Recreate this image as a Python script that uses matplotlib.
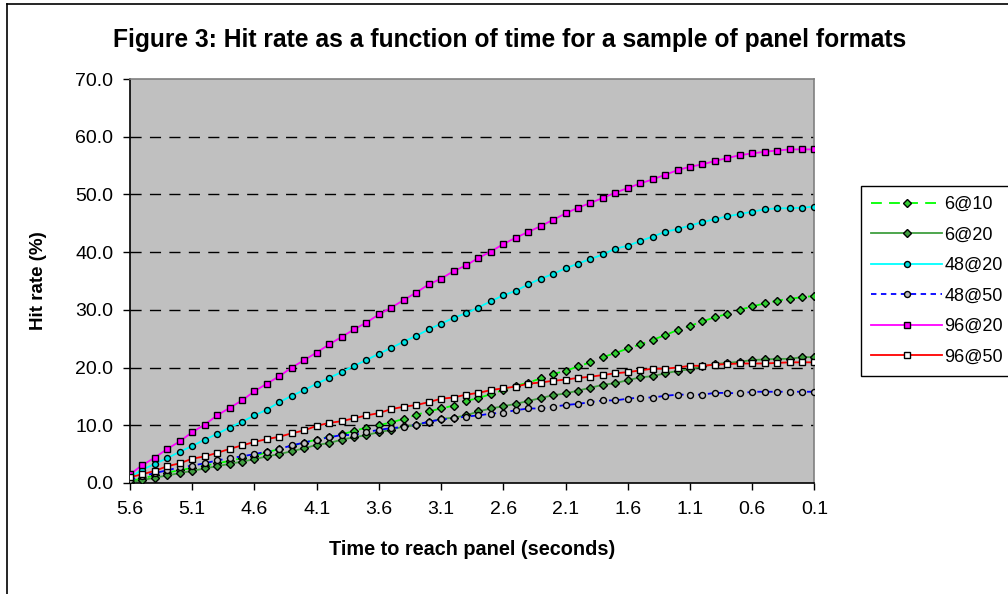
import matplotlib
matplotlib.use('Agg')
import matplotlib.pyplot as plt
from matplotlib.lines import Line2D
import numpy as np

plt.rcParams['font.family'] = ['Liberation Sans', 'DejaVu Sans']

# time to reach panel, 5.6 s down to 0.1 s
time_s = [5.6, 5.5, 5.4, 5.3, 5.2, 5.1, 5.0, 4.9, 4.8, 4.7, 4.6, 4.5, 4.4, 4.3,
          4.2, 4.1, 4.0, 3.9, 3.8, 3.7, 3.6, 3.5, 3.4, 3.3, 3.2, 3.1, 3.0, 2.9,
          2.8, 2.7, 2.6, 2.5, 2.4, 2.3, 2.2, 2.1, 2.0, 1.9, 1.8, 1.7, 1.6, 1.5,
          1.4, 1.3, 1.2, 1.1, 1.0, 0.9, 0.8, 0.7, 0.6, 0.5, 0.4, 0.3, 0.2, 0.1]

hit_6_10 = [0.3, 0.8, 1.3, 1.8, 2.2, 2.6, 3.0, 3.4, 3.8, 4.3, 4.7, 5.3, 5.9, 6.4,
            7.0, 7.5, 8.0, 8.4, 9.0, 9.6, 10.0, 10.5, 11.1, 11.8, 12.4, 12.9, 13.4, 14.2,
            14.7, 15.4, 16.1, 16.8, 17.4, 18.1, 18.9, 19.4, 20.2, 20.9, 21.8, 22.5, 23.3, 24.0,
            24.8, 25.6, 26.5, 27.2, 28.0, 28.7, 29.3, 30.0, 30.6, 31.1, 31.6, 31.9, 32.2, 32.4]
hit_6_20 = [0.1, 0.5, 0.9, 1.3, 1.7, 2.1, 2.5, 2.9, 3.3, 3.7, 4.1, 4.6, 5.0, 5.5,
            6.0, 6.6, 6.9, 7.5, 7.9, 8.3, 8.8, 9.2, 9.8, 10.0, 10.6, 11.1, 11.3, 11.7,
            12.4, 12.9, 13.3, 13.7, 14.2, 14.7, 15.2, 15.5, 16.0, 16.5, 17.0, 17.3, 17.8, 18.3,
            18.5, 19.0, 19.4, 19.7, 20.2, 20.6, 20.8, 21.0, 21.3, 21.4, 21.5, 21.5, 21.8, 21.8]
hit_48_20 = [1.0, 2.3, 3.3, 4.3, 5.4, 6.4, 7.5, 8.5, 9.6, 10.6, 11.7, 12.7, 14.0, 15.1,
             16.1, 17.2, 18.2, 19.2, 20.3, 21.3, 22.4, 23.4, 24.5, 25.5, 26.6, 27.6, 28.6, 29.4,
             30.4, 31.5, 32.5, 33.3, 34.4, 35.4, 36.2, 37.2, 38.0, 38.8, 39.6, 40.6, 41.1, 41.9,
             42.7, 43.5, 44.0, 44.6, 45.2, 45.7, 46.2, 46.6, 47.0, 47.4, 47.6, 47.6, 47.7, 47.9]
hit_48_50 = [0.5, 1.2, 1.7, 2.2, 2.7, 3.0, 3.4, 3.9, 4.3, 4.6, 5.0, 5.4, 5.9, 6.5,
             7.0, 7.5, 7.9, 8.3, 8.3, 8.8, 9.2, 9.5, 9.7, 10.1, 10.6, 11.0, 11.2, 11.5,
             11.7, 12.0, 12.2, 12.6, 12.9, 12.9, 13.2, 13.5, 13.7, 14.0, 14.3, 14.3, 14.6, 14.8,
             14.8, 15.1, 15.3, 15.3, 15.3, 15.6, 15.6, 15.5, 15.8, 15.8, 15.8, 15.8, 15.8, 15.8]
hit_96_20 = [1.5, 3.1, 4.4, 5.9, 7.2, 8.8, 10.1, 11.7, 13.0, 14.3, 15.9, 17.2, 18.5, 20.0,
             21.3, 22.6, 24.0, 25.3, 26.6, 27.8, 29.2, 30.4, 31.7, 33.0, 34.4, 35.4, 36.7, 37.7,
             39.0, 40.1, 41.4, 42.5, 43.5, 44.5, 45.6, 46.7, 47.7, 48.5, 49.4, 50.3, 51.1, 51.9,
             52.6, 53.4, 54.2, 54.8, 55.2, 55.8, 56.3, 56.8, 57.1, 57.4, 57.6, 57.8, 57.8, 57.8]
hit_96_50 = [1.0, 1.5, 2.1, 2.9, 3.4, 4.2, 4.6, 5.2, 5.9, 6.5, 7.1, 7.6, 8.0, 8.6,
             9.1, 9.9, 10.4, 10.7, 11.2, 11.7, 12.1, 12.8, 13.2, 13.5, 14.0, 14.6, 14.8, 15.3,
             15.6, 16.1, 16.4, 16.7, 17.2, 17.4, 17.7, 17.9, 18.2, 18.4, 18.7, 19.0, 19.2, 19.5,
             19.8, 19.8, 20.0, 20.3, 20.3, 20.5, 20.6, 20.7, 20.7, 20.7, 20.8, 20.9, 20.9, 20.9]

x_ticks = [5.6, 5.1, 4.6, 4.1, 3.6, 3.1, 2.6, 2.1, 1.6, 1.1, 0.6, 0.1]

series = [
    ('6@10', hit_6_10, '#00ff00', (0, (6, 4)), 'D', '#33cc33'),
    ('6@20', hit_6_20, '#3f9f3f', '-', 'D', '#3f9f3f'),
    ('48@20', hit_48_20, '#00ffff', '-', 'o', '#00e0e0'),
    ('48@50', hit_48_50, '#0000ff', (0, (3, 2.5)), 'o', '#c0c0c0'),
    ('96@20', hit_96_20, '#ff00ff', '-', 's', '#ff00ff'),
    ('96@50', hit_96_50, '#ff0000', '-', 's', 'white'),
]

fig = plt.figure(figsize=(10.08, 5.94), dpi=100)
ax = fig.add_axes([0.129, 0.187, 0.679, 0.68])
ax.set_facecolor('#c0c0c0')

for name, vals, col, ls, mk, mfc in series:
    ax.plot(time_s, vals, color=col, linestyle=ls, linewidth=1.3,
            marker=mk, markersize=4.3 if mk != 'D' else 3.8,
            markerfacecolor=mfc, markeredgecolor='black', markeredgewidth=1.0,
            label=name, zorder=3)

ax.set_xlim(5.6, 0.1)
ax.set_ylim(0, 70)
ax.set_xticks(x_ticks)
ax.set_xticklabels(['%.1f' % t for t in x_ticks])
ax.set_yticks(np.arange(0, 71, 10))
ax.set_yticklabels(['%.1f' % v for v in np.arange(0, 71, 10)])
ax.tick_params(labelsize=14, length=5, width=1, colors='black', pad=8)
ax.tick_params(axis='y', pad=7)

for v in range(10, 70, 10):
    ax.axhline(v, color='black', linestyle=(0, (8, 6)), linewidth=1.0, zorder=1)

ax.spines['left'].set_color('black')
ax.spines['bottom'].set_color('black')
ax.spines['top'].set_color('#808080')
ax.spines['right'].set_color('#808080')
for s in ax.spines.values():
    s.set_linewidth(1.2)

ax.set_ylabel('Hit rate (%)', fontsize=13.5, fontweight='bold', labelpad=20)
ax.set_xlabel('Time to reach panel (seconds)', fontsize=14.3, fontweight='bold', labelpad=16)
fig.text(0.506, 0.932, 'Figure 3: Hit rate as a function of time for a sample of panel formats',
         ha='center', va='center', fontsize=17.7, fontweight='bold')

leg = ax.legend(loc='upper left', bbox_to_anchor=(1.0687, 0.735), fontsize=13,
                frameon=True, fancybox=False, framealpha=1, edgecolor='black',
                handlelength=3.9, borderpad=0.55, labelspacing=0.75, handletextpad=0.15,
                borderaxespad=0)
leg.get_frame().set_linewidth(1.0)

# outer chart border (left and top edges visible)
fig.add_artist(Line2D([0.007, 0.007], [0, 0.993], transform=fig.transFigure, color='black', linewidth=1.2))
fig.add_artist(Line2D([0.007, 1.0], [0.993, 0.993], transform=fig.transFigure, color='black', linewidth=1.2))

fig.savefig('out.png', dpi=100)
